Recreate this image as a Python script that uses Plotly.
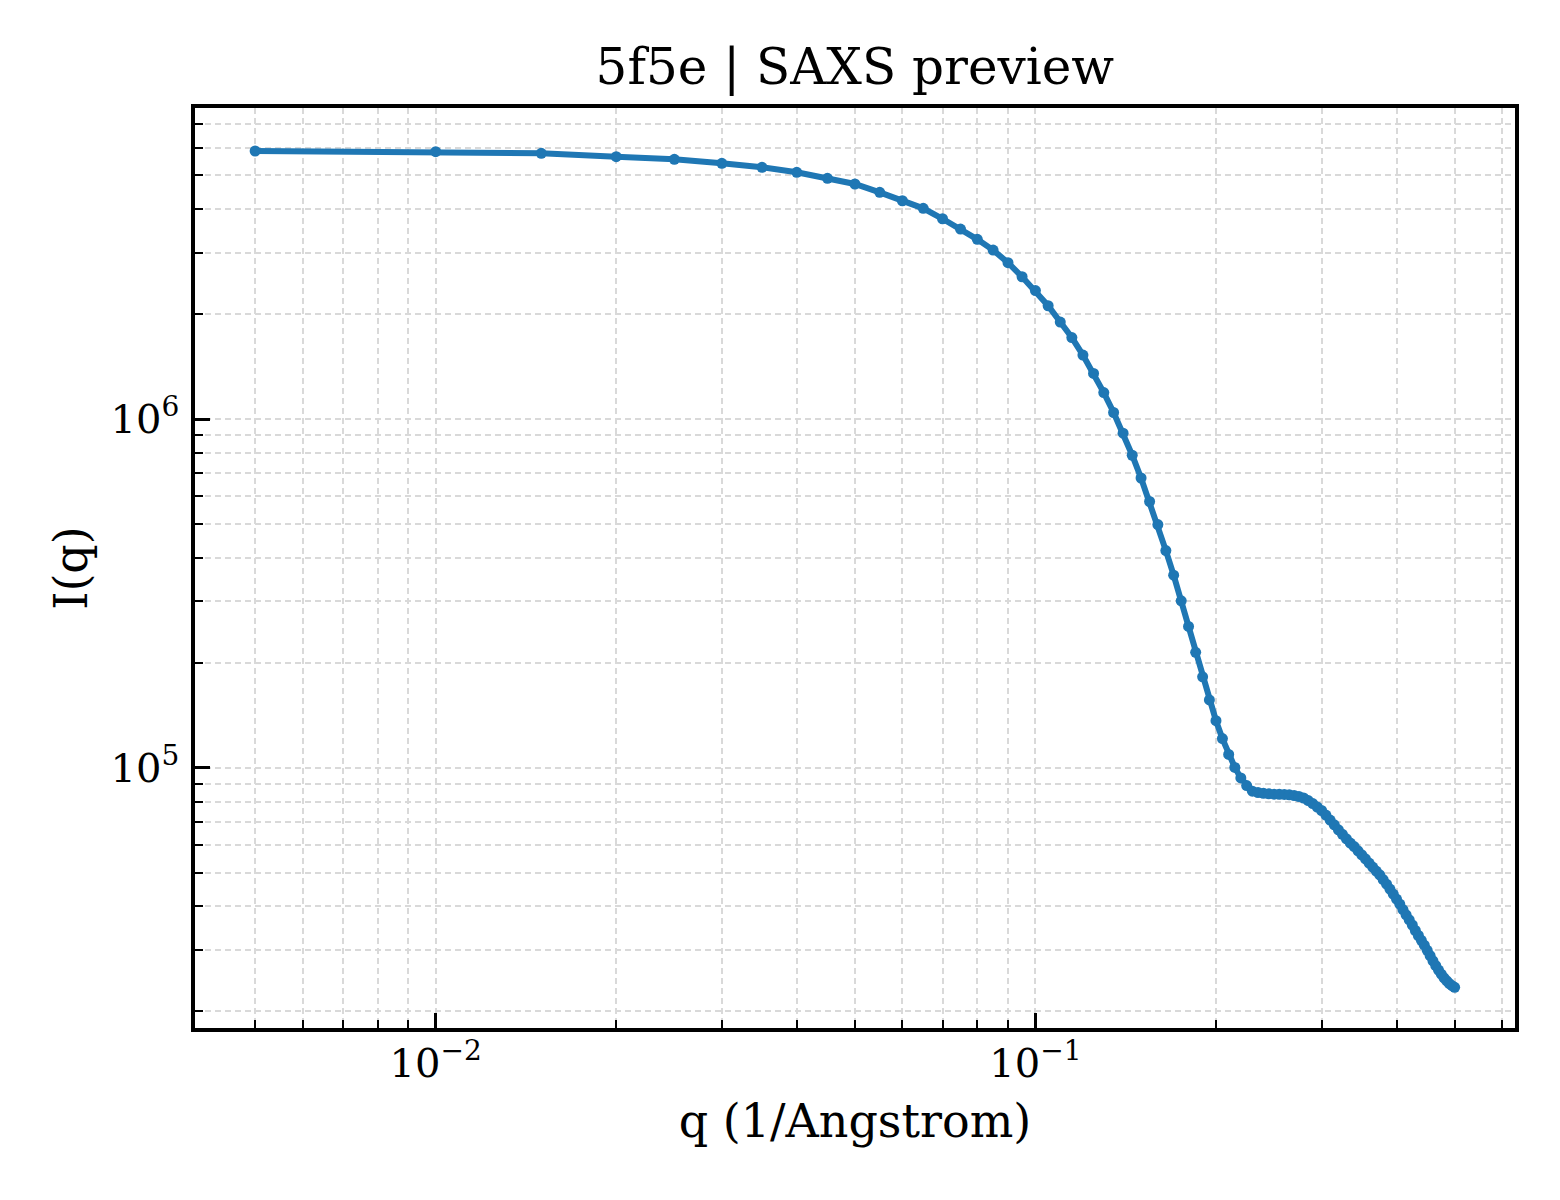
import plotly.graph_objects as go

# ---- data ----
q = [round(0.005 * k, 3) for k in range(1, 101)]
intensity = [
    5.870e6, 5.843e6, 5.781e6, 5.653e6, 5.557e6, 5.412e6, 5.271e6, 5.100e6, 4.902e6, 4.721e6,
    4.469e6, 4.227e6, 4.020e6, 3.753e6, 3.507e6, 3.276e6, 3.052e6, 2.807e6, 2.559e6, 2.336e6,
    2.113e6, 1.897e6, 1.713e6, 1.526e6, 1.351e6, 1.191e6, 1.044e6, 9.105e5, 7.873e5, 6.774e5,
    5.800e5, 4.980e5, 4.194e5, 3.567e5, 3.011e5, 2.542e5, 2.142e5, 1.822e5, 1.564e5, 1.364e5,
    1.212e5, 1.092e5, 1.002e5, 9.348e4, 8.886e4, 8.563e4, 8.489e4, 8.445e4, 8.416e4, 8.395e4,
    8.389e4, 8.383e4, 8.362e4, 8.323e4, 8.268e4, 8.187e4, 8.052e4, 7.894e4, 7.714e4, 7.538e4,
    7.316e4, 7.079e4, 6.858e4, 6.635e4, 6.441e4, 6.252e4, 6.081e4, 5.942e4, 5.776e4, 5.625e4,
    5.478e4, 5.328e4, 5.189e4, 5.054e4, 4.928e4, 4.778e4, 4.633e4, 4.488e4, 4.342e4, 4.201e4,
    4.065e4, 3.920e4, 3.785e4, 3.663e4, 3.539e4, 3.413e4, 3.302e4, 3.199e4, 3.097e4, 2.994e4,
    2.893e4, 2.794e4, 2.708e4, 2.629e4, 2.557e4, 2.497e4, 2.448e4, 2.404e4, 2.371e4, 2.345e4,
]

x_major = [0.01, 0.1]
x_major_text = ["10<sup>−2</sup>", "10<sup>−1</sup>"]
x_minor = [0.005, 0.006, 0.007, 0.008, 0.009,
           0.02, 0.03, 0.04, 0.05, 0.06, 0.07, 0.08, 0.09,
           0.2, 0.3, 0.4, 0.5, 0.6]
y_major = [1e5, 1e6]
y_major_text = ["10<sup>5</sup>", "10<sup>6</sup>"]
y_minor = [2e4, 3e4, 4e4, 5e4, 6e4, 7e4, 8e4, 9e4,
           2e5, 3e5, 4e5, 5e5, 6e5, 7e5, 8e5, 9e5,
           2e6, 3e6, 4e6, 5e6, 6e6, 7e6]

FONT = "DejaVu Serif"
GRID = "#d9d9d9"
BLUE = "#1f77b4"

fig = go.Figure()
fig.add_trace(go.Scatter(
    x=q, y=intensity, mode="lines+markers",
    line=dict(color=BLUE, width=6),
    marker=dict(color=BLUE, size=11),
    showlegend=False,
))

axis_common = dict(
    type="log",
    showline=True, linecolor="black", linewidth=3.5, mirror=True,
    ticks="inside", ticklen=15, tickwidth=3, tickcolor="black",
    showgrid=True, gridcolor=GRID, gridwidth=1.5, griddash="6px,4px",
    tickfont=dict(family=FONT, size=40, color="black"),
    zeroline=False,
)

fig.update_xaxes(
    **axis_common,
    range=[-2.4013, -0.2004],
    tickmode="array", tickvals=x_major, ticktext=x_major_text,
    minor=dict(tickmode="array", tickvals=x_minor, ticks="inside", ticklen=8,
               tickwidth=2, tickcolor="black", showgrid=True, gridcolor=GRID,
               gridwidth=1.5, griddash="6px,4px"),
    title=dict(text="q (1/Angstrom)", font=dict(family=FONT, size=46, color="black"),
               standoff=21),
    ticklabelstandoff=-3,
)
fig.update_yaxes(
    **axis_common,
    range=[4.2535, 6.892],
    tickmode="array", tickvals=y_major, ticktext=y_major_text,
    minor=dict(tickmode="array", tickvals=y_minor, ticks="inside", ticklen=8,
               tickwidth=2, tickcolor="black", showgrid=True, gridcolor=GRID,
               gridwidth=1.5, griddash="6px,4px"),
    title=dict(text="I(q)", font=dict(family=FONT, size=46, color="black"),
               standoff=9),
    ticklabelstandoff=4,
)

fig.update_layout(
    width=1560, height=1200, autosize=False,
    margin=dict(l=195, r=45, t=108, b=172, autoexpand=False),
    paper_bgcolor="white", plot_bgcolor="white",
    title=dict(text="5f5e | SAXS preview", font=dict(family=FONT, size=50, color="black"),
               x=0.548, xanchor="center", xref="container",
               y=1 - 66 / 1200, yref="container", yanchor="middle"),
)

fig.write_html("out.html", config={"displayModeBar": False},
               post_script="document.body.style.margin='0px';")
